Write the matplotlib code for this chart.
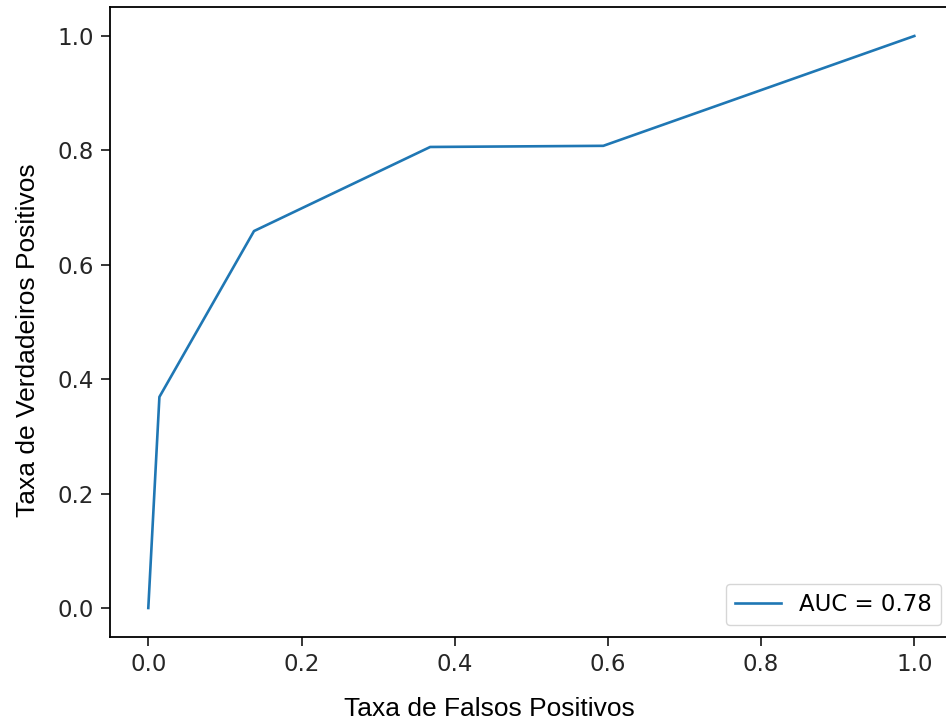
import matplotlib
matplotlib.use("Agg")
import matplotlib.pyplot as plt

# ROC curve points
fpr = [0.0, 0.0145, 0.138, 0.368, 0.594, 1.0]
tpr = [0.0, 0.369, 0.659, 0.806, 0.808, 1.0]
auc_label = "AUC = 0.78"
ticks = [0.0, 0.2, 0.4, 0.6, 0.8, 1.0]

plt.rcParams['font.family'] = 'DejaVu Sans'
plt.rcParams['font.size'] = 16.5

fig = plt.figure(figsize=(9.46, 7.26), dpi=100)
# right spine sits just past the image edge in the reference
ax = fig.add_axes([110 / 946, 1 - 636.6 / 726, 842.6 / 946, 629.2 / 726])

ax.plot(fpr, tpr, color='#1f77b4', linewidth=1.9, label=auc_label)
ax.set_xticks(ticks)
ax.set_yticks(ticks)
ax.tick_params(length=6.5, width=1.3, pad=5, colors='#262626', labelcolor='#262626')
for s in ax.spines.values():
    s.set_linewidth(1.3)

ax.set_xlabel("Taxa de Falsos Positivos", family='Liberation Sans', fontsize=19, va='top')
ax.set_ylabel("Taxa de Verdadeiros Positivos", family='Liberation Sans', fontsize=19)
ax.xaxis.set_label_coords(0.4504, -0.096)
ax.yaxis.set_label_coords(-0.083, 0.471)
ax.legend(loc='lower right', fontsize=16.5)

plt.savefig("out.png", dpi=100)
